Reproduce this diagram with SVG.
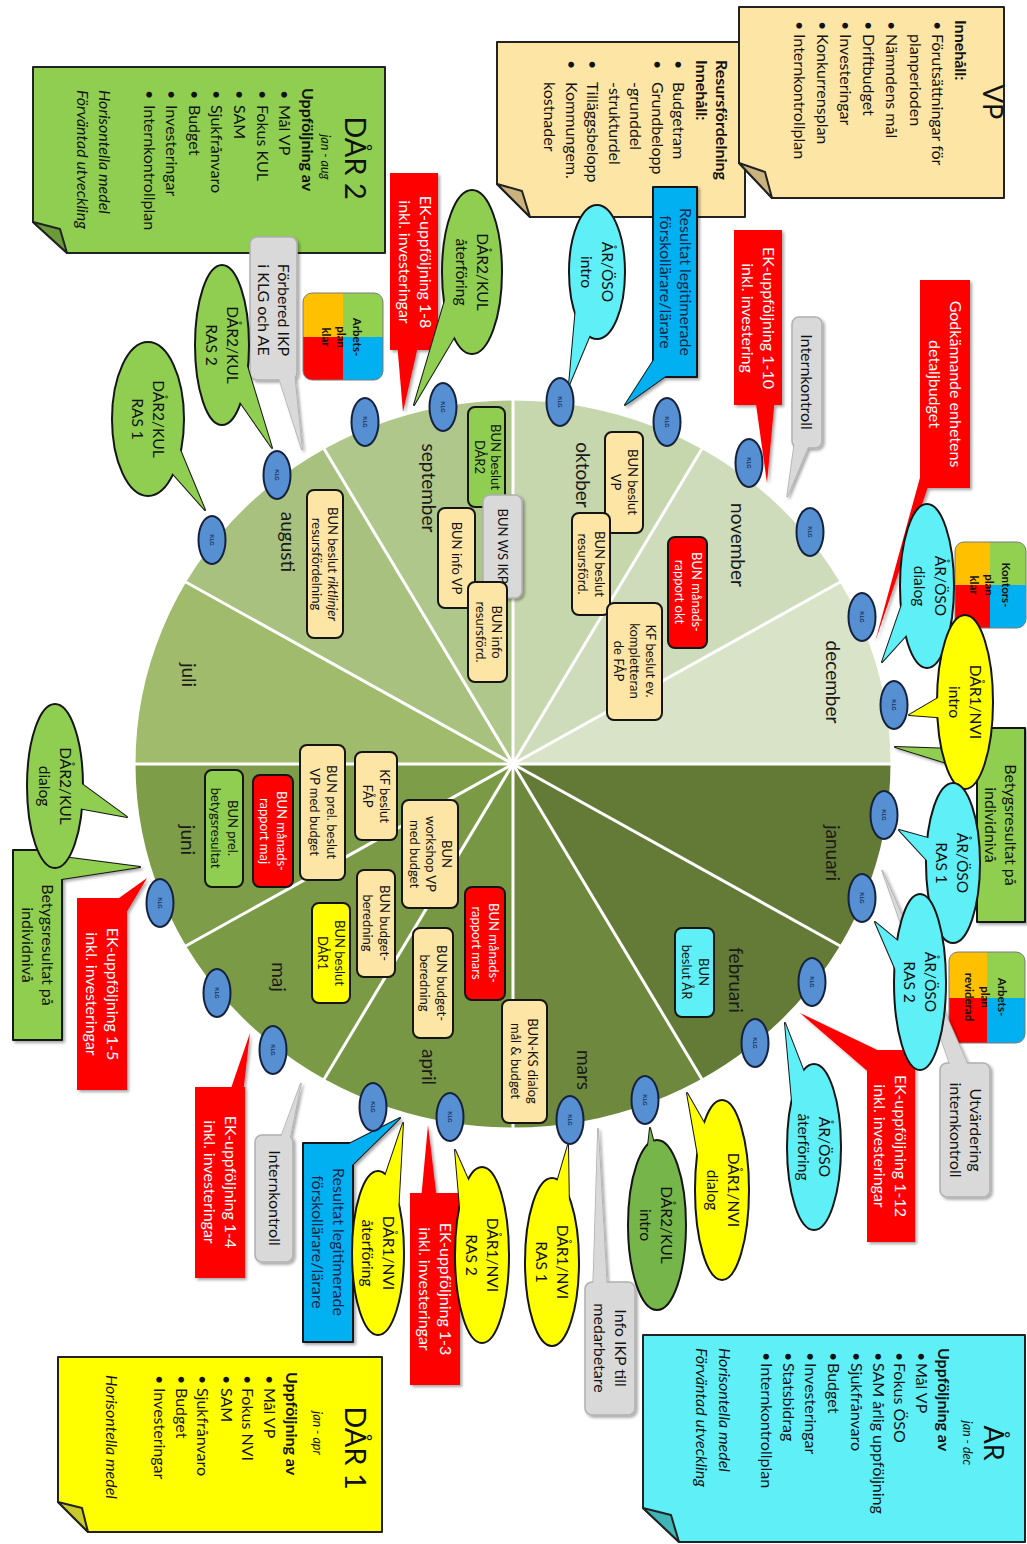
<svg xmlns="http://www.w3.org/2000/svg" width="1027" height="1544" viewBox="0 0 1027 1544">
<defs>
<style>
text { font-family: Lato, 'Liberation Sans', sans-serif; fill:#111; }
.nt { font-size:16px; }
.b { font-weight:bold; }
.i { font-style:italic; }
.ttl { font-size:29px; text-anchor:middle; }
.sub { font-size:12.5px; font-style:italic; text-anchor:middle; }
.bt { font-size:15.5px; text-anchor:middle; }
.rt { font-size:16px; text-anchor:middle; }
.wt { font-size:13px; text-anchor:middle; }
.mt { font-size:19px; text-anchor:middle; fill:#1a1a1a; }
.kt { font-size:6px; font-weight:bold; text-anchor:middle; fill:#16305e; }
.it { font-size:11.5px; font-weight:bold; text-anchor:middle; }
.w { fill:#fff; }
.ln { stroke:#151515; stroke-width:2; stroke-linejoin:round; }
.cy { fill:#5ff0f7; }
.ye { fill:#ffff00; }
.gr { fill:#8fce50; }
.gd { fill:#76b549; }
.rd { fill:#ff0000; }
.bl { fill:#00b0f0; }
.gy { fill:#d9d9d9; }
.gys { stroke:#b0b0b0; stroke-width:1.5; }
.tan { fill:#fde5a6; }
.klg { fill:#5690d2; stroke:#15213d; stroke-width:2; }
.sp { stroke:#fff; stroke-width:3; }
.note { stroke:#222; stroke-width:2; stroke-linejoin:round; }
</style>
<filter id="sh" x="-20%" y="-20%" width="140%" height="140%">
<feDropShadow dx="2" dy="-2" stdDeviation="1.5" flood-color="#000" flood-opacity="0.35"/>
</filter>
<clipPath id="ic1"><rect x="293" y="644" width="87" height="80" rx="9"/></clipPath>
<clipPath id="ic2"><rect x="542" y="1" width="86" height="71" rx="9"/></clipPath>
<clipPath id="ic3"><rect x="952" y="2" width="91" height="76" rx="9"/></clipPath>
</defs>
<rect x="0" y="0" width="1027" height="1544" fill="#fff"/>
<g transform="translate(1027,0) rotate(90)">

<!-- Notes -->
<g id="note-resurs">
<path class="tan note" d="M42,282 H217 V497 L184,530 H42 Z"/>
<path d="M217,497 L184,530 L191,505 Z" fill="#c9b27c" class="note" stroke-width="1.5"/>
<text class="nt b" x="60" y="311">Resursfördelning</text>
<text class="nt b" x="60" y="331">Innehåll:</text>
<text class="nt" x="60" y="354">•</text><text class="nt" x="82" y="354">Budgetram</text>
<text class="nt" x="60" y="375">•</text><text class="nt" x="82" y="375">Grundbelopp</text>
<text class="nt" x="82" y="397">-grunddel</text>
<text class="nt" x="82" y="418">-strukturdel</text>
<text class="nt" x="60" y="440">•</text><text class="nt" x="82" y="440">Tilläggsbelopp</text>
<text class="nt" x="60" y="461">•</text><text class="nt" x="82" y="461">Kommungem.</text>
<text class="nt" x="82" y="483">kostnader</text>
</g>

<g id="note-vp">
<path class="tan note" d="M7,23 H198 V255 L163,288 H7 Z"/>
<path d="M198,255 L163,288 L172,262 Z" fill="#c9b27c" class="note" stroke-width="1.5"/>
<text class="ttl" x="102" y="44" style="font-size:27px">VP</text>
<text class="nt b" x="20" y="72">Innehåll:</text>
<text class="nt" x="21" y="95">•</text><text class="nt" x="34" y="95">Förutsättningar för</text>
<text class="nt" x="34" y="117">planperioden</text>
<text class="nt" x="21" y="141">•</text><text class="nt" x="34" y="141">Nämndens mål</text>
<text class="nt" x="21" y="164">•</text><text class="nt" x="34" y="164">Driftbudget</text>
<text class="nt" x="21" y="187">•</text><text class="nt" x="34" y="187">Investeringar</text>
<text class="nt" x="21" y="210">•</text><text class="nt" x="34" y="210">Konkurrensplan</text>
<text class="nt" x="21" y="233">•</text><text class="nt" x="34" y="233">Internkontrollplan</text>
</g>

<g id="note-dar2">
<path class="gr note" d="M67,642 H253 V960 L222,994 H67 Z"/>
<path d="M253,960 L222,994 L229,967 Z" fill="#6a9a3a" class="note" stroke-width="1.5"/>
<text class="ttl" x="158" y="682">DÅR 2</text>
<text class="sub" x="157" y="706">jan - aug</text>
<text class="nt b" x="88" y="725">Uppföljning av</text>
<text class="nt" x="90" y="748">•</text><text class="nt" x="105" y="748">Mål VP</text>
<text class="nt" x="90" y="770">•</text><text class="nt" x="105" y="770">Fokus KUL</text>
<text class="nt" x="90" y="793">•</text><text class="nt" x="105" y="793">SAM</text>
<text class="nt" x="90" y="816">•</text><text class="nt" x="105" y="816">Sjukfrånvaro</text>
<text class="nt" x="90" y="838">•</text><text class="nt" x="105" y="838">Budget</text>
<text class="nt" x="90" y="861">•</text><text class="nt" x="105" y="861">Investeringar</text>
<text class="nt" x="90" y="883">•</text><text class="nt" x="105" y="883">Internkontrollplan</text>
<text class="nt i" x="90" y="928">Horisontella medel</text>
<text class="nt i" x="90" y="950">Förväntad utveckling</text>
</g>

<g id="note-dar1">
<path class="ye note" d="M1357,645 H1532 V939 L1502,969 H1357 Z"/>
<path d="M1532,939 L1502,969 L1508,945 Z" fill="#c9c92a" class="note" stroke-width="1.5"/>
<text class="ttl" x="1448" y="682">DÅR 1</text>
<text class="sub" x="1433" y="714">jan - apr</text>
<text class="nt b" x="1372" y="741">Uppföljning av</text>
<text class="nt" x="1375" y="763">•</text><text class="nt" x="1388" y="763">Mål VP</text>
<text class="nt" x="1375" y="785">•</text><text class="nt" x="1388" y="785">Fokus NVI</text>
<text class="nt" x="1375" y="806">•</text><text class="nt" x="1388" y="806">SAM</text>
<text class="nt" x="1375" y="830">•</text><text class="nt" x="1388" y="830">Sjukfrånvaro</text>
<text class="nt" x="1375" y="851">•</text><text class="nt" x="1388" y="851">Budget</text>
<text class="nt" x="1375" y="873">•</text><text class="nt" x="1388" y="873">Investeringar</text>
<text class="nt i" x="1375" y="921">Horisontella medel</text>
</g>

<g id="note-ar">
<path class="cy note" d="M1335,2 H1542 V348 L1508,384 H1335 Z"/>
<path d="M1542,348 L1508,384 L1515,356 Z" fill="#3fb5b8" class="note" stroke-width="1.5"/>
<text class="ttl" x="1443" y="43" style="font-size:27px">ÅR</text>
<text class="sub" x="1443" y="64">jan - dec</text>
<text class="nt b" x="1348" y="89">Uppföljning av</text>
<text class="nt" x="1352" y="111">•</text><text class="nt" x="1363" y="111">Mål VP</text>
<text class="nt" x="1352" y="133">•</text><text class="nt" x="1363" y="133">Fokus ÖSO</text>
<text class="nt" x="1352" y="154">•</text><text class="nt" x="1363" y="154">SAM årlig uppföljning</text>
<text class="nt" x="1352" y="176">•</text><text class="nt" x="1363" y="176">Sjukfrånvaro</text>
<text class="nt" x="1352" y="199">•</text><text class="nt" x="1363" y="199">Budget</text>
<text class="nt" x="1352" y="222">•</text><text class="nt" x="1363" y="222">Investeringar</text>
<text class="nt" x="1352" y="244">•</text><text class="nt" x="1363" y="244">Statsbidrag</text>
<text class="nt" x="1352" y="266">•</text><text class="nt" x="1363" y="266">Internkontrollplan</text>
<text class="nt i" x="1348" y="308">Horisontella medel</text>
<text class="nt i" x="1348" y="331">Förväntad utveckling</text>
</g>

<!-- Wheel -->
<g id="wheel">
<path id="m-jan" fill="#627a35" d="M764,514 L764,134 A366,380 0 0 1 947,184.9 Z"/>
<path id="m-feb" fill="#637b36" d="M764,514 L947,184.9 A366,380 0 0 1 1081,324 Z"/>
<path id="m-mar" fill="#6e893e" d="M764,514 L1081,324 A366,380 0 0 1 1130,514 Z"/>
<path id="m-apr" fill="#789744" d="M764,514 L1130,514 A366,380 0 0 1 1081,704 Z"/>
<path id="m-maj" fill="#7b9a46" d="M764,514 L1081,704 A366,380 0 0 1 947,843.1 Z"/>
<path id="m-jun" fill="#7e9d48" d="M764,514 L947,843.1 A366,380 0 0 1 764,894 Z"/>
<path id="m-jul" fill="#9fbb6b" d="M764,514 L764,894 A366,380 0 0 1 581,843.1 Z"/>
<path id="m-aug" fill="#a8c17f" d="M764,514 L581,843.1 A366,380 0 0 1 447,704 Z"/>
<path id="m-sep" fill="#afc78b" d="M764,514 L447,704 A366,380 0 0 1 398,514 Z"/>
<path id="m-okt" fill="#c6d6ad" d="M764,514 L398,514 A366,380 0 0 1 447,324 Z"/>
<path id="m-nov" fill="#cfdcbb" d="M764,514 L447,324 A366,380 0 0 1 581,184.9 Z"/>
<path id="m-dec" fill="#d8e3c8" d="M764,514 L581,184.9 A366,380 0 0 1 764,134 Z"/>
<ellipse cx="764" cy="514" rx="366" ry="380" fill="none" stroke="#fff" stroke-width="5"/>
</g>
<g id="spokes" class="sp">
<line x1="764" y1="514" x2="764" y2="134"/>
<line x1="764" y1="514" x2="947" y2="184.9"/>
<line x1="764" y1="514" x2="1081" y2="324"/>
<line x1="764" y1="514" x2="1130" y2="514"/>
<line x1="764" y1="514" x2="1081" y2="704"/>
<line x1="764" y1="514" x2="947" y2="843.1"/>
<line x1="764" y1="514" x2="764" y2="894"/>
<line x1="764" y1="514" x2="581" y2="843.1"/>
<line x1="764" y1="514" x2="447" y2="704"/>
<line x1="764" y1="514" x2="398" y2="514"/>
<line x1="764" y1="514" x2="447" y2="324"/>
<line x1="764" y1="514" x2="581" y2="184.9"/>
</g>
<g id="months">
<text class="mt" x="853" y="201">januari</text>
<text class="mt" x="980" y="298">februari</text>
<text class="mt" x="1070" y="450">mars</text>
<text class="mt" x="1067" y="605">april</text>
<text class="mt" x="977" y="755">maj</text>
<text class="mt" x="840" y="846">juni</text>
<text class="mt" x="675" y="845">juli</text>
<text class="mt" x="542" y="746">augusti</text>
<text class="mt" x="488" y="605">september</text>
<text class="mt" x="475" y="451">oktober</text>
<text class="mt" x="545" y="296">november</text>
<text class="mt" x="682" y="201">december</text>
</g>

<!-- Wheel boxes -->
<g id="w1"><rect class="tan ln" x="490" y="684" width="148" height="36" rx="7"/><text class="wt" x="564" y="699">BUN beslut <tspan class="i">riktlinjer</tspan></text><text class="wt" x="564" y="715">resursfördelning</text></g>
<g id="w2"><rect class="gr ln" x="407" y="522" width="100" height="37" rx="7"/><text class="wt" x="457" y="536">BUN beslut</text><text class="wt" x="457" y="552">DÅR2</text></g>
<g id="w3"><rect class="tan ln" x="508" y="552" width="100" height="37" rx="7"/><text class="wt" x="558" y="575">BUN info VP</text></g>
<g id="w4"><rect class="gy gys" filter="url(#sh)" x="495" y="505" width="103" height="39" rx="7"/><text class="wt" x="546" y="529">BUN WS IKP</text></g>
<g id="w5"><rect class="tan ln" x="582" y="520" width="100" height="39" rx="7"/><text class="wt" x="632" y="535">BUN info</text><text class="wt" x="632" y="551">resursförd.</text></g>
<g id="w6"><rect class="tan ln" x="432" y="384" width="101" height="38" rx="7"/><text class="wt" x="482" y="399">BUN beslut</text><text class="wt" x="482" y="416">VP</text></g>
<g id="w7"><rect class="tan ln" x="513" y="417" width="102" height="38" rx="7"/><text class="wt" x="564" y="432">BUN beslut</text><text class="wt" x="564" y="449">resursförd.</text></g>
<g id="w8"><rect class="tan ln" x="603" y="365" width="117" height="55" rx="7"/><text class="wt" x="661" y="381">KF beslut ev.</text><text class="wt" x="661" y="397">kompletteran</text><text class="wt" x="661" y="413">de FÅP</text></g>
<g id="w9"><rect class="rd ln" x="537" y="320" width="111" height="39" rx="7"/><text class="wt w" x="592" y="335">BUN månads-</text><text class="wt w" x="592" y="352">rapport okt</text></g>
<g id="w10"><rect class="cy ln" x="928" y="313" width="89" height="39" rx="7"/><text class="wt" x="972" y="328">BUN</text><text class="wt" x="972" y="345">beslut ÅR</text></g>
<g id="w11"><rect class="tan ln" x="1000" y="480" width="123" height="45" rx="7"/><text class="wt" x="1061" y="499">BUN-KS dialog</text><text class="wt" x="1061" y="516">mål &amp; budget</text></g>
<g id="w12"><rect class="rd ln" x="887" y="522" width="113" height="40" rx="7"/><text class="wt w" x="943" y="538">BUN månads-</text><text class="wt w" x="943" y="555">rapport mars</text></g>
<g id="w13"><rect class="tan ln" x="928" y="574" width="110" height="40" rx="7"/><text class="wt" x="983" y="590">BUN budget-</text><text class="wt" x="983" y="607">beredning</text></g>
<g id="w14"><rect class="tan ln" x="800" y="569" width="108" height="56" rx="7"/><text class="wt" x="854" y="585">BUN</text><text class="wt" x="854" y="601">workshop VP</text><text class="wt" x="854" y="617">med budget</text></g>
<g id="w15"><rect class="tan ln" x="752" y="630" width="88" height="42" rx="7"/><text class="wt" x="796" y="647">KF beslut</text><text class="wt" x="796" y="664">FÅP</text></g>
<g id="w16"><rect class="tan ln" x="870" y="632" width="107" height="38" rx="7"/><text class="wt" x="923" y="647">BUN budget-</text><text class="wt" x="923" y="664">beredning</text></g>
<g id="w17"><rect class="ye ln" x="903" y="677" width="100" height="38" rx="7"/><text class="wt" x="953" y="692">BUN beslut</text><text class="wt" x="953" y="709">DÅR1</text></g>
<g id="w18"><rect class="tan ln" x="745" y="682" width="135" height="45" rx="7"/><text class="wt" x="812" y="700">BUN prel. beslut</text><text class="wt" x="812" y="717">VP med budget</text></g>
<g id="w19"><rect class="rd ln" x="775" y="734" width="112" height="40" rx="7"/><text class="wt w" x="831" y="750">BUN månads-</text><text class="wt w" x="831" y="767">rapport maj</text></g>
<g id="w20"><rect class="gr ln" x="770" y="784" width="117" height="38" rx="7"/><text class="wt" x="828" y="799">BUN prel.</text><text class="wt" x="828" y="816">betygsresultat</text></g>

<!-- Icons -->
<g id="icon-arbetsplan-klar">
<g clip-path="url(#ic1)"><rect x="293" y="644" width="44" height="40" fill="#92d050"/><rect x="337" y="644" width="43" height="40" fill="#00b0f0"/><rect x="293" y="684" width="44" height="40" fill="#ffc000"/><rect x="337" y="684" width="43" height="40" fill="#ff0000"/></g>
<rect x="293" y="644" width="87" height="80" rx="9" fill="none" stroke="#7a7a7a" stroke-width="1"/>
<text class="it" x="337" y="674">Arbets-</text><text class="it" x="337" y="690">plan</text><text class="it" x="337" y="705">klar</text>
</g>
<g id="icon-kontorsplan-klar">
<g clip-path="url(#ic2)"><rect x="542" y="1" width="43" height="36" fill="#92d050"/><rect x="585" y="1" width="43" height="36" fill="#00b0f0"/><rect x="542" y="37" width="43" height="35" fill="#ffc000"/><rect x="585" y="37" width="43" height="35" fill="#ff0000"/></g>
<rect x="542" y="1" width="86" height="71" rx="9" fill="none" stroke="#7a7a7a" stroke-width="1"/>
<text class="it" x="585" y="25">Kontors-</text><text class="it" x="585" y="42">plan</text><text class="it" x="585" y="57">klar</text>
</g>
<g id="icon-arbetsplan-reviderad">
<g clip-path="url(#ic3)"><rect x="952" y="2" width="46" height="38" fill="#92d050"/><rect x="998" y="2" width="45" height="38" fill="#00b0f0"/><rect x="952" y="40" width="46" height="38" fill="#ffc000"/><rect x="998" y="40" width="45" height="38" fill="#ff0000"/></g>
<rect x="952" y="2" width="91" height="76" rx="9" fill="none" stroke="#7a7a7a" stroke-width="1"/>
<text class="it" x="997" y="29">Arbets-</text><text class="it" x="997" y="46">plan</text><text class="it" x="997" y="62">reviderad</text>
</g>

<!-- Rect callouts -->
<g id="c-forbered">
<g filter="url(#sh)"><path class="gy gys" d="M372,733 L450,725 L372,750 Z"/><rect class="gy gys" x="237" y="730" width="143" height="47" rx="7"/><path class="gy" d="M372,733 L450,725 L372,750 Z"/></g>
<text class="rt" x="310" y="749">Förbered IKP</text><text class="rt" x="310" y="769">i KLG och AE</text>
</g>
<g id="c-ek18">
<g filter="url(#sh)"><path class="rd" d="M342,608 L412,624 L342,630 Z"/><rect class="rd" x="173" y="589" width="177" height="48"/></g>
<text class="rt w" x="262" y="607">EK-uppföljning 1-8</text><text class="rt w" x="262" y="628">inkl. investeringar</text>
</g>
<g id="c-resultat-top">
<g filter="url(#sh)"><path class="bl ln" d="M368,350 L405,402 L355,370 Z"/><rect class="bl ln" x="187" y="330" width="190" height="44"/><path class="bl" d="M368,350 L405,402 L355,370 Z"/></g>
<text class="rt" x="282" y="347" style="fill:#14244a">Resultat legitimerade</text><text class="rt" x="282" y="367" style="fill:#14244a">förskollärare/lärare</text>
</g>
<g id="c-ek110">
<g filter="url(#sh)"><path class="rd" d="M397,252 L483,260 L397,272 Z"/><rect class="rd" x="230" y="245" width="175" height="48"/></g>
<text class="rt w" x="318" y="264">EK-uppföljning 1-10</text><text class="rt w" x="318" y="285">inkl. investering</text>
</g>
<g id="c-internkontroll-top">
<g filter="url(#sh)"><path class="gy gys" d="M440,216 L497,240 L440,232 Z"/><rect class="gy gys" x="317" y="205" width="131" height="30" rx="7"/><path class="gy" d="M440,216 L497,240 L440,232 Z"/></g>
<text class="rt" x="382" y="226">Internkontroll</text>
</g>
<g id="c-godkannande">
<g filter="url(#sh)"><path class="rd" d="M452,100 L642,152 L484,98 Z"/><rect class="rd" x="280" y="57" width="208" height="50"/></g>
<text class="rt w" x="384" y="77">Godkännande enhetens</text><text class="rt w" x="384" y="98">detaljbudget</text>
</g>
<g id="c-betyg-right">
<g filter="url(#sh)"><path class="gr ln" d="M750,42 L747,132 L775,42 Z"/><rect class="gr ln" x="728" y="2" width="194" height="48"/><path class="gr" d="M750,42 L747,132 L775,42 Z"/></g>
<text class="rt" x="825" y="22">Betygsresultat på</text><text class="rt" x="825" y="42">individnivå</text>
</g>
<g id="c-utvardering">
<g filter="url(#sh)"><path class="gy gys" d="M1070,57 L870,145 L1070,75 Z"/><rect class="gy gys" x="1063" y="37" width="134" height="50" rx="7"/><path class="gy" d="M1070,57 L870,145 L1070,75 Z"/></g>
<text class="rt" x="1130" y="57">Utvärdering</text><text class="rt" x="1130" y="77">internkontroll</text>
</g>
<g id="c-ek112">
<g filter="url(#sh)"><path class="rd" d="M1057,135 L1013,227 L1075,155 Z"/><rect class="rd" x="1050" y="112" width="192" height="48"/></g>
<text class="rt w" x="1146" y="132">EK-uppföljning 1-12</text><text class="rt w" x="1146" y="153">inkl. investeringar</text>
</g>
<g id="c-infoikp">
<g filter="url(#sh)"><path class="gy gys" d="M1290,420 L1128,429 L1290,434 Z"/><rect class="gy gys" x="1282" y="392" width="133" height="50" rx="7"/><path class="gy" d="M1290,420 L1128,429 L1290,434 Z"/></g>
<text class="rt" x="1348" y="412">Info IKP till</text><text class="rt" x="1348" y="433">medarbetare</text>
</g>
<g id="c-ek13">
<g filter="url(#sh)"><path class="rd" d="M1200,590 L1125,599 L1200,606 Z"/><rect class="rd" x="1193" y="567" width="192" height="50"/></g>
<text class="rt w" x="1289" y="587">EK-uppföljning 1-3</text><text class="rt w" x="1289" y="608">inkl. investeringar</text>
</g>
<g id="c-resultat-bottom">
<g filter="url(#sh)"><path class="bl ln" d="M1150,690 L1118,627 L1170,680 Z"/><rect class="bl ln" x="1143" y="674" width="199" height="50"/><path class="bl" d="M1150,690 L1118,627 L1170,680 Z"/></g>
<text class="rt" x="1242" y="694" style="fill:#14244a">Resultat legitimerade</text><text class="rt" x="1242" y="715" style="fill:#14244a">förskollärare/lärare</text>
</g>
<g id="c-internkontroll-bottom">
<g filter="url(#sh)"><path class="gy gys" d="M1142,738 L1083,726 L1142,748 Z"/><rect class="gy gys" x="1135" y="734" width="127" height="38" rx="7"/><path class="gy" d="M1142,738 L1083,726 L1142,748 Z"/></g>
<text class="rt" x="1198" y="758">Internkontroll</text>
</g>
<g id="c-ek14">
<g filter="url(#sh)"><path class="rd" d="M1094,784 L1033,777 L1094,798 Z"/><rect class="rd" x="1087" y="782" width="191" height="50"/></g>
<text class="rt w" x="1182" y="802">EK-uppföljning 1-4</text><text class="rt w" x="1182" y="823">inkl. investeringar</text>
</g>
<g id="c-ek15">
<g filter="url(#sh)"><path class="rd" d="M903,915 L878,880 L920,905 Z"/><rect class="rd" x="898" y="900" width="192" height="50"/></g>
<text class="rt w" x="994" y="920">EK-uppföljning 1-5</text><text class="rt w" x="994" y="941">inkl. investeringar</text>
</g>
<g id="c-betyg-left">
<g filter="url(#sh)"><path class="gr ln" d="M856,972 L867,887 L880,972 Z"/><rect class="gr ln" x="850" y="965" width="190" height="49"/><path class="gr" d="M856,972 L867,887 L880,972 Z"/></g>
<text class="rt" x="945" y="985">Betygsresultat på</text><text class="rt" x="945" y="1005">individnivå</text>
</g>

<!-- Bubbles -->
<g id="b-dar2-ras2">
<path class="gr ln" d="M352.9,821.2 L448,755 L337.1,788.8 Z"/><ellipse class="gr ln" cx="345" cy="805" rx="80" ry="27"/><path class="gr" d="M352.9,821.2 L448,755 L337.1,788.8 Z"/>
<text class="bt" x="345" y="800">DÅR2/KUL</text><text class="bt" x="345" y="821">RAS 2</text>
</g>
<g id="b-dar2-ras1">
<path class="gr ln" d="M428.6,894.3 L510,822 L409.4,863.7 Z"/><ellipse class="gr ln" cx="419" cy="879" rx="77" ry="36"/><path class="gr" d="M428.6,894.3 L510,822 L409.4,863.7 Z"/>
<text class="bt" x="419" y="874">DÅR2/KUL</text><text class="bt" x="419" y="895">RAS 1</text>
</g>
<g id="b-dar2-aterforing">
<path class="gr ln" d="M264.8,571.5 L405,613 L279.2,538.5 Z"/><ellipse class="gr ln" cx="272" cy="555" rx="82" ry="30"/><path class="gr" d="M264.8,571.5 L405,613 L279.2,538.5 Z"/>
<text class="bt" x="272" y="550">DÅR2/KUL</text><text class="bt" x="272" y="571">återföring</text>
</g>
<g id="b-ar-intro">
<path class="cy ln" d="M267.7,447.5 L385,458 L276.3,412.5 Z"/><ellipse class="cy ln" cx="272" cy="430" rx="67" ry="28"/><path class="cy" d="M267.7,447.5 L385,458 L276.3,412.5 Z"/>
<text class="bt" x="272" y="425">ÅR/ÖSO</text><text class="bt" x="272" y="446">intro</text>
</g>
<g id="b-ar-dialog">
<path class="cy ln" d="M576.8,115.5 L662,145 L595.2,84.5 Z"/><ellipse class="cy ln" cx="586" cy="100" rx="82" ry="27"/><path class="cy" d="M576.8,115.5 L662,145 L595.2,84.5 Z"/>
<text class="bt" x="586" y="92">ÅR/ÖSO</text><text class="bt" x="586" y="113">dialog</text>
</g>
<g id="b-dar1-intro">
<path class="ye ln" d="M684.5,66.1 L715,118 L719.5,57.9 Z"/><ellipse class="ye ln" cx="702" cy="62" rx="87" ry="28"/><path class="ye" d="M684.5,66.1 L715,118 L719.5,57.9 Z"/>
<text class="bt" x="702" y="57">DÅR1/NVI</text><text class="bt" x="702" y="78">intro</text>
</g>
<g id="b-ar-ras1">
<path class="cy ln" d="M847.6,64.6 L830,128 L878.4,83.4 Z"/><ellipse class="cy ln" cx="863" cy="74" rx="80" ry="27"/><path class="cy" d="M847.6,64.6 L830,128 L878.4,83.4 Z"/>
<text class="bt" x="863" y="70">ÅR/ÖSO</text><text class="bt" x="863" y="91">RAS 1</text>
</g>
<g id="b-ar-ras2">
<path class="cy ln" d="M971.2,92.6 L922,152 L992.8,121.4 Z"/><ellipse class="cy ln" cx="982" cy="107" rx="88" ry="26"/><path class="cy" d="M971.2,92.6 L922,152 L992.8,121.4 Z"/>
<text class="bt" x="982" y="102">ÅR/ÖSO</text><text class="bt" x="982" y="123">RAS 2</text>
</g>
<g id="b-ar-aterforing">
<path class="cy ln" d="M1142.9,195.5 L1023,242 L1151.1,230.5 Z"/><ellipse class="cy ln" cx="1147" cy="213" rx="83" ry="27"/><path class="cy" d="M1142.9,195.5 L1023,242 L1151.1,230.5 Z"/>
<text class="bt" x="1147" y="208">ÅR/ÖSO</text><text class="bt" x="1147" y="229">återföring</text>
</g>
<g id="b-dar1-dialog">
<path class="ye ln" d="M1183.9,288.1 L1093,340 L1196.1,321.9 Z"/><ellipse class="ye ln" cx="1190" cy="305" rx="90" ry="27"/><path class="ye" d="M1183.9,288.1 L1093,340 L1196.1,321.9 Z"/>
<text class="bt" x="1190" y="299">DÅR1/NVI</text><text class="bt" x="1190" y="320">dialog</text>
</g>
<g id="b-dar2-intro">
<path class="gd ln" d="M1223.7,352.1 L1128,377 L1226.3,387.9 Z"/><ellipse class="gd ln" cx="1225" cy="370" rx="85" ry="29"/><path class="gd" d="M1223.7,352.1 L1128,377 L1226.3,387.9 Z"/>
<text class="bt" x="1225" y="366">DÅR2/KUL</text><text class="bt" x="1225" y="387">intro</text>
</g>
<g id="b-dar1-ras1">
<path class="ye ln" d="M1264.4,457.2 L1145,459 L1259.6,492.8 Z"/><ellipse class="ye ln" cx="1262" cy="475" rx="84" ry="27"/><path class="ye" d="M1264.4,457.2 L1145,459 L1259.6,492.8 Z"/>
<text class="bt" x="1262" y="470">DÅR1/NVI</text><text class="bt" x="1262" y="491">RAS 1</text>
</g>
<g id="b-dar1-ras2">
<path class="ye ln" d="M1250.5,527.6 L1150,572 L1259.5,562.4 Z"/><ellipse class="ye ln" cx="1255" cy="545" rx="88" ry="27"/><path class="ye" d="M1250.5,527.6 L1150,572 L1259.5,562.4 Z"/>
<text class="bt" x="1255" y="540">DÅR1/NVI</text><text class="bt" x="1255" y="561">RAS 2</text>
</g>
<g id="b-dar1-aterforing">
<path class="ye ln" d="M1256.4,631.3 L1123,624 L1249.6,666.7 Z"/><ellipse class="ye ln" cx="1253" cy="649" rx="82" ry="26"/><path class="ye" d="M1256.4,631.3 L1123,624 L1249.6,666.7 Z"/>
<text class="bt" x="1253" y="644">DÅR1/NVI</text><text class="bt" x="1253" y="665">återföring</text>
</g>
<g id="b-dar2-dialog">
<path class="gr ln" d="M802.5,979.1 L817,900 L769.5,964.9 Z"/><ellipse class="gr ln" cx="786" cy="972" rx="82" ry="28"/><path class="gr" d="M802.5,979.1 L817,900 L769.5,964.9 Z"/>
<text class="bt" x="786" y="967">DÅR2/KUL</text><text class="bt" x="786" y="988">dialog</text>
</g>

<!-- KLG -->
<g id="klg-1"><ellipse class="klg" cx="540" cy="815" rx="24" ry="13.5"/><text class="kt" x="540" y="817">KLG</text></g>
<g id="klg-2"><ellipse class="klg" cx="475" cy="750" rx="24" ry="13.5"/><text class="kt" x="475" y="752">KLG</text></g>
<g id="klg-3"><ellipse class="klg" cx="422" cy="662" rx="24" ry="13.5"/><text class="kt" x="422" y="664">KLG</text></g>
<g id="klg-4"><ellipse class="klg" cx="407" cy="584" rx="24" ry="13.5"/><text class="kt" x="407" y="586">KLG</text></g>
<g id="klg-5"><ellipse class="klg" cx="402" cy="467" rx="24" ry="13.5"/><text class="kt" x="402" y="469">KLG</text></g>
<g id="klg-6"><ellipse class="klg" cx="422" cy="360" rx="24" ry="13.5"/><text class="kt" x="422" y="362">KLG</text></g>
<g id="klg-7"><ellipse class="klg" cx="463" cy="278" rx="24" ry="13.5"/><text class="kt" x="463" y="280">KLG</text></g>
<g id="klg-8"><ellipse class="klg" cx="532" cy="217" rx="24" ry="13.5"/><text class="kt" x="532" y="219">KLG</text></g>
<g id="klg-9"><ellipse class="klg" cx="617" cy="165" rx="24" ry="13.5"/><text class="kt" x="617" y="167">KLG</text></g>
<g id="klg-10"><ellipse class="klg" cx="705" cy="133" rx="24" ry="13.5"/><text class="kt" x="705" y="135">KLG</text></g>
<g id="klg-11"><ellipse class="klg" cx="815" cy="143" rx="24" ry="13.5"/><text class="kt" x="815" y="145">KLG</text></g>
<g id="klg-12"><ellipse class="klg" cx="898" cy="165" rx="24" ry="13.5"/><text class="kt" x="898" y="167">KLG</text></g>
<g id="klg-13"><ellipse class="klg" cx="982" cy="215" rx="24" ry="13.5"/><text class="kt" x="982" y="217">KLG</text></g>
<g id="klg-14"><ellipse class="klg" cx="1043" cy="272" rx="24" ry="13.5"/><text class="kt" x="1043" y="274">KLG</text></g>
<g id="klg-15"><ellipse class="klg" cx="1100" cy="382" rx="24" ry="13.5"/><text class="kt" x="1100" y="384">KLG</text></g>
<g id="klg-16"><ellipse class="klg" cx="1120" cy="457" rx="24" ry="13.5"/><text class="kt" x="1120" y="459">KLG</text></g>
<g id="klg-17"><ellipse class="klg" cx="1117" cy="577" rx="24" ry="13.5"/><text class="kt" x="1117" y="579">KLG</text></g>
<g id="klg-18"><ellipse class="klg" cx="1107" cy="654" rx="24" ry="13.5"/><text class="kt" x="1107" y="656">KLG</text></g>
<g id="klg-19"><ellipse class="klg" cx="1050" cy="754" rx="24" ry="13.5"/><text class="kt" x="1050" y="756">KLG</text></g>
<g id="klg-20"><ellipse class="klg" cx="993" cy="810" rx="24" ry="13.5"/><text class="kt" x="993" y="812">KLG</text></g>
<g id="klg-21"><ellipse class="klg" cx="903" cy="867" rx="24" ry="13.5"/><text class="kt" x="903" y="869">KLG</text></g>
</g>
</svg>
